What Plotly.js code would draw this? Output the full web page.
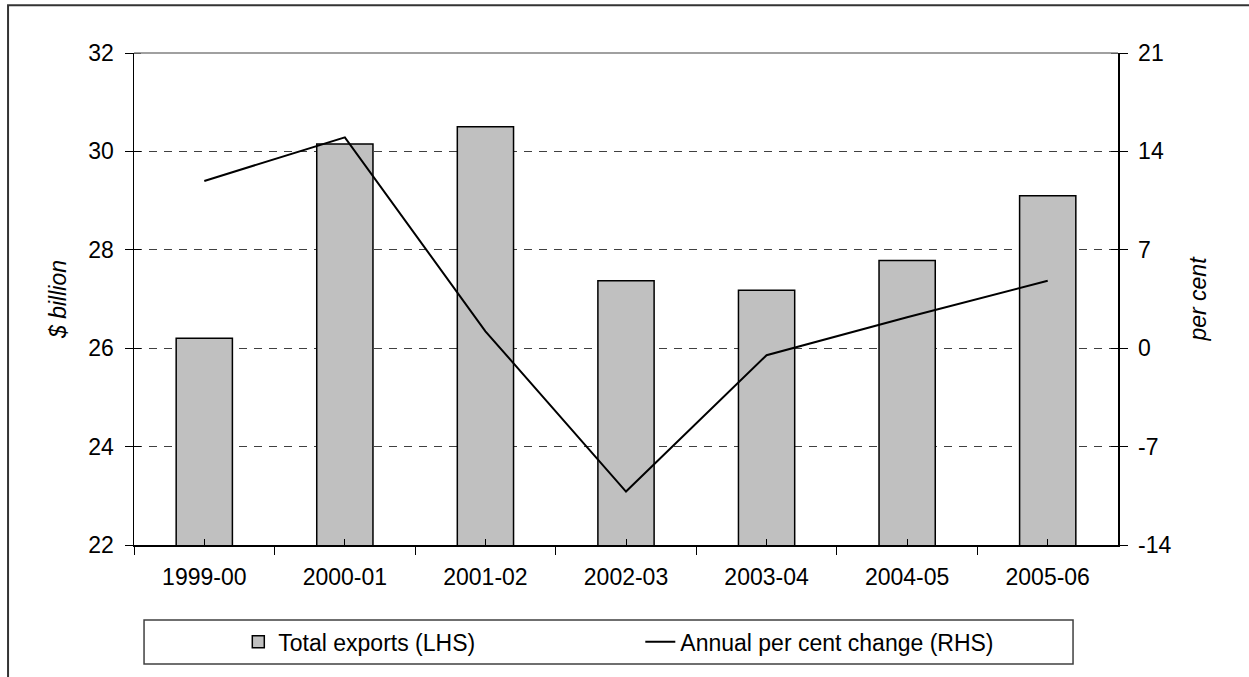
<!DOCTYPE html>
<html>
<head>
<meta charset="utf-8">
<script src="https://cdn.plot.ly/plotly-3.0.1.min.js"></script>
<style>
  html, body { margin: 0; padding: 0; background: #fff; }
  #chart { width: 1249px; height: 677px; }
</style>
</head>
<body>
<div id="chart"></div>
<script>
// Data
const categories = ["1999-00", "2000-01", "2001-02", "2002-03", "2003-04", "2004-05", "2005-06"];
const totalExports = [26.2, 30.15, 30.5, 27.37, 27.18, 27.78, 29.1];   // $ billion (LHS)
const annualChange = [11.9, 15.0, 1.2, -10.2, -0.5, 2.2, 4.8];       // per cent (RHS)
const leftTicks = [22, 24, 26, 28, 30, 32];
const rightTicks = [-14, -7, 0, 7, 14, 21];
const seriesNames = ["Total exports (LHS)", "Annual per cent change (RHS)"];
const leftTitle = "$ billion";
const rightTitle = "per cent";

const FONT = "Liberation Sans, Arial, sans-serif";
const FS = 23;
const EPS = 1e-4;

// inner half of the crossing tick marks (drawn as minor ticks next to the major ones)
const boundaries = categories.map((c, i) => i - 0.5 + EPS).concat([categories.length - 0.5 - EPS]);
const leftInner = leftTicks.map(v => v + EPS);
const rightInner = rightTicks.map(v => v + EPS);

const traces = [
  {
    type: "bar",
    name: seriesNames[0],
    x: categories,
    y: totalExports,
    yaxis: "y",
    marker: { color: "#c0c0c0", line: { color: "#000000", width: 1.5 } },
    hoverinfo: "x+y"
  },
  {
    type: "scatter",
    mode: "lines",
    name: seriesNames[1],
    x: categories,
    y: annualChange,
    yaxis: "y2",
    line: { color: "#000000", width: 2 },
    hoverinfo: "x+y"
  }
];

const layout = {
  width: 1249,
  height: 677,
  margin: { l: 134, r: 131, t: 53, b: 132 },
  paper_bgcolor: "#ffffff",
  plot_bgcolor: "#ffffff",
  font: { family: FONT, size: FS, color: "#000000" },
  showlegend: true,
  bargap: 0.6,
  xaxis: {
    type: "category",
    range: [-0.5, 6.5],
    tickson: "boundaries",
    ticks: "outside",
    ticklen: 8,
    tickwidth: 1,
    tickcolor: "#000000",
    minor: { tickmode: "array", tickvals: boundaries, ticks: "inside", ticklen: 6, tickwidth: 1, tickcolor: "#000000", showgrid: false },
    showline: true,
    linecolor: "#000000",
    linewidth: 1.5,
    showgrid: false,
    zeroline: false,
    ticklabelstandoff: 11,
    tickfont: { family: FONT, size: FS, color: "#000000" },
    fixedrange: true
  },
  yaxis: {
    range: [22, 32],
    tickvals: leftTicks,
    ticktext: leftTicks.map(String),
    ticks: "outside",
    ticklen: 8,
    tickwidth: 1,
    tickcolor: "#000000",
    minor: { tickmode: "array", tickvals: leftInner, ticks: "inside", ticklen: 7, tickwidth: 1, tickcolor: "#000000", showgrid: false },
    showline: true,
    linecolor: "#000000",
    linewidth: 1.5,
    showgrid: true,
    gridcolor: "#404040",
    gridwidth: 1,
    griddash: "8px,7px",
    zeroline: false,
    ticklabelstandoff: 6,
    tickfont: { family: FONT, size: FS, color: "#000000" },
    title: { text: leftTitle, font: { family: FONT, size: FS, color: "#000000", style: "italic" }, standoff: 15 },
    fixedrange: true
  },
  yaxis2: {
    range: [-14, 21],
    tickvals: rightTicks,
    ticktext: rightTicks.map(String),
    overlaying: "y",
    side: "right",
    ticks: "outside",
    ticklen: 8,
    tickwidth: 1,
    tickcolor: "#000000",
    minor: { tickmode: "array", tickvals: rightInner, ticks: "inside", ticklen: 7, tickwidth: 1, tickcolor: "#000000", showgrid: false },
    showline: true,
    linecolor: "#000000",
    linewidth: 1.5,
    showgrid: false,
    zeroline: false,
    ticklabelstandoff: 6,
    tickfont: { family: FONT, size: FS, color: "#000000" },
    title: { text: rightTitle, font: { family: FONT, size: FS, color: "#000000", style: "italic" }, standoff: 19 },
    fixedrange: true
  },
  legend: {
    orientation: "h",
    x: 0.106,
    xanchor: "left",
    y: -0.197,
    yanchor: "middle",
    bgcolor: "rgba(0,0,0,0)",
    borderwidth: 0,
    entrywidth: 357,
    entrywidthmode: "pixels",
    font: { family: FONT, size: FS, color: "#000000" }
  },
  shapes: [
    // top border of plot area (grey)
    { type: "line", xref: "paper", yref: "paper", x0: 0, x1: 1, y0: 1, y1: 1,
      line: { color: "#808080", width: 1.5 } },
    // legend frame
    { type: "rect", xref: "paper", yref: "paper",
      x0: 0.0102, x1: 0.9543, y0: -0.2421, y1: -0.1526,
      line: { color: "#404040", width: 1.5 }, fillcolor: "rgba(0,0,0,0)" },
    // outer chart frame
    { type: "rect", xref: "paper", yref: "paper",
      x0: -0.128, x1: 1.3, y0: -0.4, y1: 1.097,
      line: { color: "#333333", width: 2 }, fillcolor: "rgba(0,0,0,0)" }
  ]
};

Plotly.newPlot("chart", traces, layout, { displayModeBar: false, staticPlot: true });
</script>
</body>
</html>
